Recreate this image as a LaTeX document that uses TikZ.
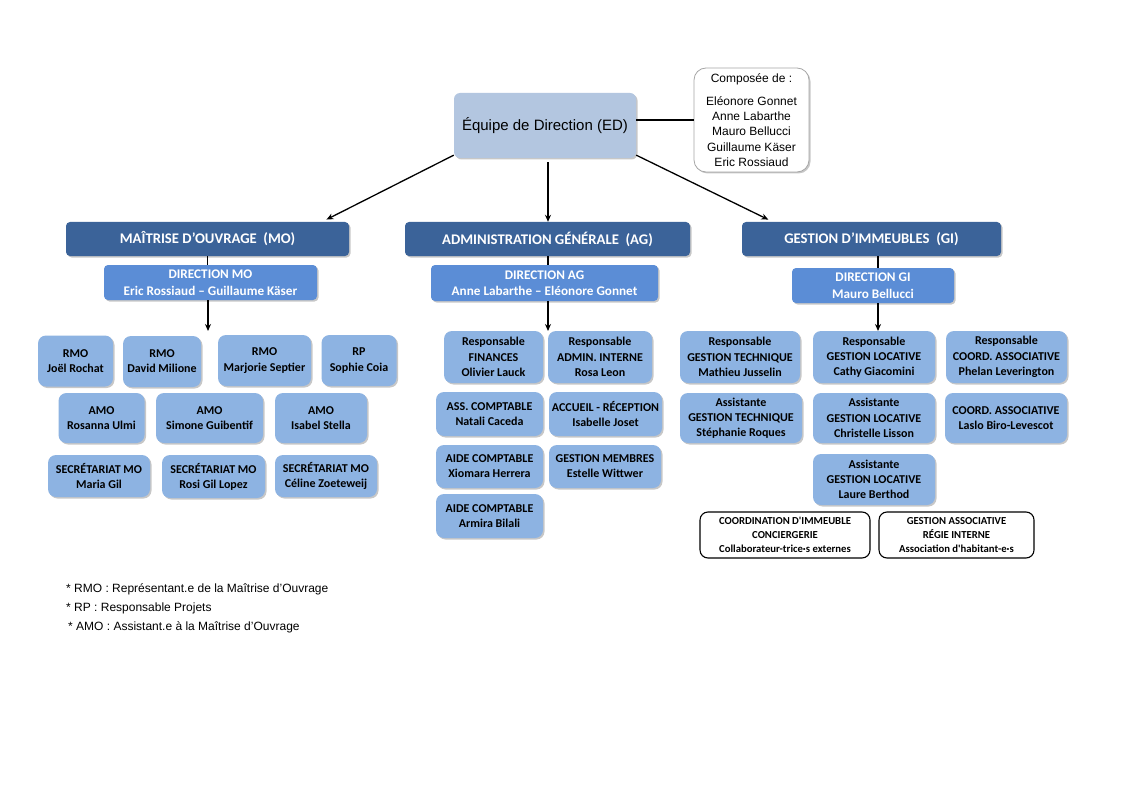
\documentclass[tikz,border=0pt]{standalone}
\usepackage{fontspec}
\setmainfont{Liberation Sans}
\newfontfamily\carl{Carlito}
\usetikzlibrary{arrows.meta,shadows,calc}
\definecolor{hdr}{HTML}{3B6399}
\definecolor{dirc}{HTML}{5B8DD6}
\definecolor{stf}{HTML}{8DB3E2}
\definecolor{edc}{HTML}{B3C6E0}
\begin{document}
\begin{tikzpicture}[x=1pt,y=-1pt,
  shad/.style={drop shadow={shadow xshift=1.5pt,shadow yshift=-1.5pt,opacity=0.22,fill=black}},
  hdrbox/.style={shape=rectangle,rounded corners=4pt,fill=hdr,text=white,font=\carl\bfseries\fontsize{14.7}{17}\selectfont,inner sep=0pt,shad},
  dirbox/.style={shape=rectangle,rounded corners=4pt,fill=dirc,text=white,align=center,font=\carl\bfseries\fontsize{13.2}{16.5}\selectfont,inner sep=0pt,shad},
  staff/.style={shape=rectangle,rounded corners=8pt,fill=stf,text=black,align=center,font=\carl\bfseries\fontsize{12}{15.2}\selectfont,inner sep=0pt,shad},
  ext/.style={shape=rectangle,rounded corners=8pt,draw=black,line width=1.1pt,fill=white,align=center,font=\carl\bfseries\fontsize{10.7}{14}\selectfont,inner sep=0pt},
  arr/.style={draw=black,line width=1.3pt,-{Stealth[length=7pt,width=6pt]}},
  ln/.style={draw=black,line width=1.3pt},
  note/.style={anchor=west,font=\fontsize{12}{14}\selectfont,inner sep=0pt}
]
\useasboundingbox (0,0) rectangle (1123,794);
\fill[white] (0,0) rectangle (1123,794);

% top
\node[shape=rectangle,rounded corners=6pt,fill=edc,minimum width=182pt,minimum height=65pt,font=\fontsize{15}{17}\selectfont,shad] (ED) at (545,125.5) {Équipe de Direction (ED)};
\node[shape=rectangle,rounded corners=12pt,draw=black!35,line width=0.8pt,fill=white,minimum width=115pt,minimum height=104pt,align=center,font=\fontsize{12}{15.3}\selectfont,shad] (CO) at (751.5,120) {Composée de :\\[7.5pt] Eléonore Gonnet\\ Anne Labarthe\\ Mauro Bellucci\\ Guillaume Käser\\ Eric Rossiaud};

% headers
\node[hdrbox,minimum width=283pt,minimum height=34pt] (MO) at (207.5,239) {MAÎTRISE D’OUVRAGE\ \ (MO)};
\node[hdrbox,minimum width=285pt,minimum height=34pt] (AG) at (547.5,239) {ADMINISTRATION GÉNÉRALE\ \ (AG)};
\node[hdrbox,minimum width=259pt,minimum height=34pt] (GI) at (871.5,239) {GESTION D’IMMEUBLES\ \ (GI)};

% directions
\node[dirbox,minimum width=213pt,minimum height=35pt] (DMO) at (210.5,282.5) {DIRECTION MO\\Eric Rossiaud – Guillaume Käser};
\node[dirbox,minimum width=227pt,minimum height=36pt] (DAG) at (544.5,283) {DIRECTION AG\\Anne Labarthe – Eléonore Gonnet};
\node[dirbox,minimum width=162pt,minimum height=35pt] (DGI) at (873,285.5) {DIRECTION GI\\Mauro Bellucci};

% MO staff
\node[staff,minimum width=75pt,minimum height=51pt] (m1) at (75.5,361) {RMO\\Joël Rochat};
\node[staff,minimum width=78pt,minimum height=51pt] (m2) at (162,361.5) {RMO\\David Milione};
\node[staff,minimum width=93pt,minimum height=51pt] (m3) at (264.5,360.5) {RMO\\Marjorie Septier};
\node[staff,minimum width=75pt,minimum height=51pt] (m4) at (359,360.5) {RP\\Sophie Coia};
\node[staff,minimum width=86pt,minimum height=50pt] (m5) at (101.5,418) {AMO\\Rosanna Ulmi};
\node[staff,minimum width=107pt,minimum height=50pt] (m6) at (209.5,418) {AMO\\Simone Guibentif};
\node[staff,minimum width=92pt,minimum height=50pt] (m7) at (321,418) {AMO\\Isabel Stella};
\node[staff,minimum width=102pt,minimum height=42pt] (m8) at (99,476) {SECRÉTARIAT MO\\Maria Gil};
\node[staff,minimum width=103pt,minimum height=43pt] (m9) at (213.5,476.5) {SECRÉTARIAT MO\\Rosi Gil Lopez};
\node[staff,minimum width=102pt,minimum height=42pt] (m10) at (326,476) {SECRÉTARIAT MO\\Céline Zoeteweij};

% AG staff
\node[staff,minimum width=99pt,minimum height=52pt] (a1) at (493.5,357) {Responsable\\FINANCES\\Olivier Lauck};
\node[staff,minimum width=104pt,minimum height=52pt] (a2) at (600,357) {Responsable\\ADMIN. INTERNE\\Rosa Leon};
\node[staff,minimum width=107pt,minimum height=44pt] (a3) at (489.5,414) {ASS. COMPTABLE\\Natali Caceda};
\node[staff,minimum width=113pt,minimum height=44pt] (a4) at (605.5,414) {ACCUEIL - RÉCEPTION\\Isabelle Joset};
\node[staff,minimum width=107pt,minimum height=43pt] (a5) at (489.5,466.5) {AIDE COMPTABLE\\Xiomara Herrera};
\node[staff,minimum width=112pt,minimum height=43pt] (a6) at (605,466.5) {GESTION MEMBRES\\Estelle Wittwer};
\node[staff,minimum width=107pt,minimum height=44pt] (a7) at (489.5,516) {AIDE COMPTABLE\\Armira Bilali};

% GI staff
\node[staff,minimum width=120pt,minimum height=52pt] (g1) at (740,357) {Responsable\\GESTION TECHNIQUE\\Mathieu Jusselin};
\node[staff,minimum width=122pt,minimum height=52pt] (g2) at (874,357) {Responsable\\GESTION LOCATIVE\\Cathy Giacomini};
\node[staff,minimum width=121pt,minimum height=52pt] (g3) at (1006.5,357) {Responsable\\COORD. ASSOCIATIVE\\Phelan Leverington};
\node[staff,minimum width=122pt,minimum height=50pt] (g4) at (741,418) {Assistante\\GESTION TECHNIQUE\\Stéphanie Roques};
\node[staff,minimum width=122pt,minimum height=50pt] (g5) at (874,418) {Assistante\\GESTION LOCATIVE\\Christelle Lisson};
\node[staff,minimum width=122pt,minimum height=50pt] (g6) at (1006,418) {COORD. ASSOCIATIVE\\Laslo Biro-Levescot};
\node[staff,minimum width=122pt,minimum height=51pt] (g7) at (874,479.5) {Assistante\\GESTION LOCATIVE\\Laure Berthod};
\node[ext,minimum width=170pt,minimum height=46pt] (x1) at (785,535) {COORDINATION D'IMMEUBLE\\CONCIERGERIE\\Collaborateur-trice·s externes};
\node[ext,minimum width=155pt,minimum height=46pt] (x2) at (956.5,535) {GESTION ASSOCIATIVE\\RÉGIE INTERNE\\Association d'habitant-e·s};

% connectors
\draw[ln] (CO.west) -- (CO.west -| ED.east);
\draw[arr,shorten >=5pt] (ED.198) -- ($(MO.north)+(114.5,0)$);
\draw[arr,shorten <=4pt] ($(ED.south)+(3,0)$) -- ($(AG.north)+(0.5,0)$);
\draw[arr,shorten >=5pt] (ED.-18) -- ($(GI.north west)+(31,0)$);

\draw[ln] (MO.south) -- (MO.south |- DMO.north);
\draw[ln] ($(AG.south)+(0.5,0)$) -- ($(AG.south |- DAG.north)+(0.5,0)$);
\draw[ln] ($(GI.south)+(6.5,0)$) -- ($(GI.south |- DGI.north)+(6.5,0)$);

\coordinate (tmo) at (208,331);
\coordinate (tag) at (548,331);
\coordinate (tgi) at (878,331);
\draw[arr] (DMO.south -| tmo) -- (tmo);
\draw[arr] (DAG.south -| tag) -- (tag);
\draw[arr] (DGI.south -| tgi) -- (tgi);

% notes
\node[note] (n1) at (66,589) {* RMO : Représentant.e de la Maîtrise d'Ouvrage};
\node[note] (n2) at (66,608) {* RP : Responsable Projets};
\node[note] (n3) at (68,627) {* AMO : Assistant.e à la Maîtrise d'Ouvrage};
\end{tikzpicture}
\end{document}
